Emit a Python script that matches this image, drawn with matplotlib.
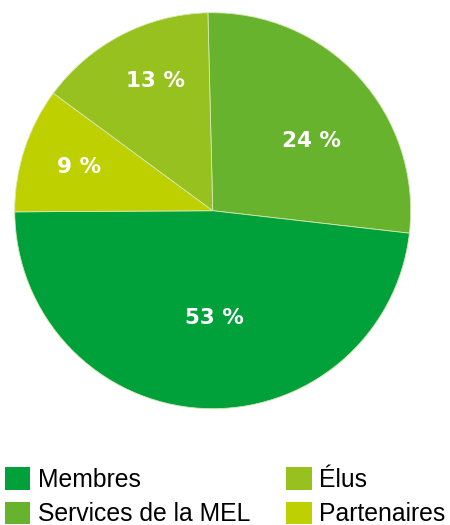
import matplotlib.pyplot as plt
from matplotlib.patches import Patch
import numpy as np

# categories in legend order
categories = ["Membres", "Services de la MEL", "Élus", "Partenaires"]
colors = ["#00A13B", "#68B32E", "#96C11F", "#BFD000"]

# pie, drawn clockwise from the top: Services, Membres, Partenaires, Élus
pie_cats = ["Services de la MEL", "Membres", "Partenaires", "Élus"]
# wedge shares as they appear in the picture
pie_shares = [27.2, 48.1, 10.2, 14.5]
pie_labels = ["24 %", "53 %", "9 %", "13 %"]
# label placement (angle in degrees, radius as fraction of the pie)
label_angle = [35.5, -89.0, 162.0, 113.8]
label_radius = [0.61, 0.54, 0.71, 0.715]

col = dict(zip(categories, colors))

fig = plt.figure(figsize=(4.5, 5.25), dpi=100)
ax = fig.add_axes([0.0327, 0.2215, 0.88, 0.7543])

wedges, _ = ax.pie(pie_shares, colors=[col[c] for c in pie_cats],
                   startangle=91.4, counterclock=False, radius=1,
                   wedgeprops=dict(linewidth=0.6, edgecolor="#d8e8b0"))
ax.set_xlim(-1, 1)
ax.set_ylim(-1, 1)
ax.set_aspect("equal")
ax.axis("off")

for lab, a, r in zip(pie_labels, label_angle, label_radius):
    t = np.deg2rad(a)
    ax.text(r * np.cos(t), r * np.sin(t), lab, color="white",
            fontsize=15.5, fontweight="bold", ha="center", va="center")

handles = [Patch(facecolor=col[c], edgecolor="none") for c in categories]
fig.legend(handles, categories, loc="upper left", bbox_to_anchor=(0.01, 0.11),
           ncol=2, frameon=False, handlelength=1.05, handleheight=1.05,
           handletextpad=0.3, labelspacing=0.38, columnspacing=1.45, borderpad=0,
           borderaxespad=0, prop={"family": "Liberation Sans", "size": 17.8})

fig.savefig("out.png", dpi=100)
